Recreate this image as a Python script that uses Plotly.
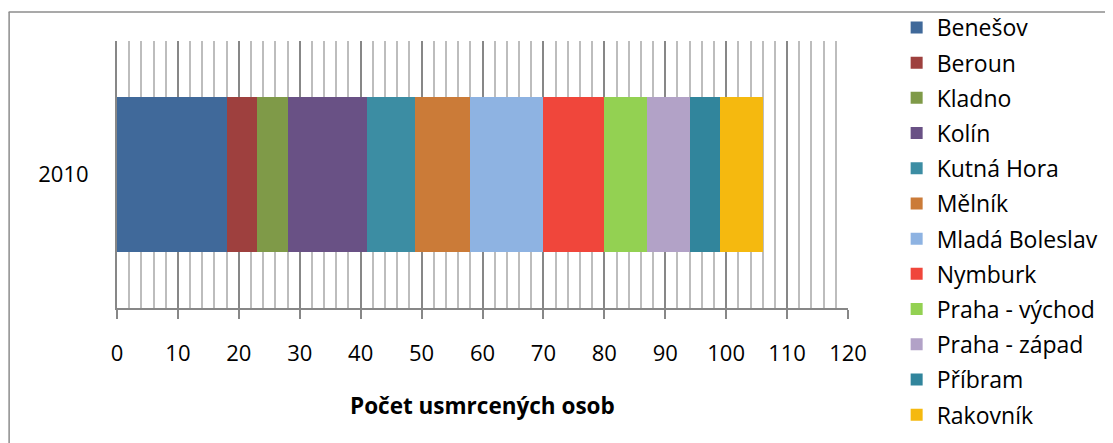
import plotly.graph_objects as go

# ---- data ----
years = ["2010"]
districts = ["Benešov", "Beroun", "Kladno", "Kolín", "Kutná Hora", "Mělník",
             "Mladá Boleslav", "Nymburk", "Praha - východ", "Praha - západ",
             "Příbram", "Rakovník"]
deaths = [18, 5, 5, 13, 8, 9, 12, 10, 7, 7, 5, 7]
colors = ["#40699A", "#9E403E", "#7F9A48", "#695185", "#3C8DA3", "#CB7B38",
          "#8EB3E2", "#F0463B", "#93D152", "#B2A2C7", "#31859C", "#F5B90F"]
x_title = "Počet usmrcených osob"

W, H = 1113, 443          # screen size
OX, OY = 8, 8             # default page body margin
L, R, T, B = 116.5, 848.3, 41, 308  # plot area in screen pixels

def px_x(px):
    return (px - L) / (R - L)

def px_y(py):
    return (B - py) / (B - T)

FONT = "Open Sans"
fig = go.Figure()
for name, val, col in zip(districts, deaths, colors):
    fig.add_trace(go.Bar(
        y=years, x=[val], name=name, orientation="h",
        marker=dict(color=col, line=dict(width=0)),
        legendgroup=name,
    ))

fig.update_layout(
    width=W - OX, height=H - OY,
    margin=dict(l=L - OX, r=W - R, t=T - OY, b=H - B, pad=0, autoexpand=False),
    paper_bgcolor="white", plot_bgcolor="white",
    barmode="stack", bargap=0.423,
    font=dict(family=FONT, size=22, color="black"),
    showlegend=True,
    legend=dict(
        x=px_x(897), y=px_y(6), xanchor="left", yanchor="top",
        traceorder="grouped", tracegroupgap=2.3,
        font=dict(family=FONT, size=23, color="black"),
        bgcolor="rgba(0,0,0,0)", maxheight=700,
    ),
    xaxis=dict(
        range=[0, 120], dtick=10, tick0=0,
        showgrid=True, gridcolor="#878787", gridwidth=2,
        minor=dict(dtick=2, showgrid=True, gridcolor="#BDBDBD", gridwidth=1.5),
        showline=True, linecolor="#878787", linewidth=2,
        ticks="outside", ticklen=9, tickwidth=2, tickcolor="#878787",
        ticklabelstandoff=16, automargin=False,
        zeroline=False, fixedrange=True,
    ),
    yaxis=dict(
        type="category",
        showline=True, linecolor="#878787", linewidth=2,
        showgrid=False, zeroline=False, ticks="",
        ticklabelstandoff=22, automargin=False,
    ),
    annotations=[dict(
        text="<b>" + x_title + "</b>", xref="paper", yref="paper",
        x=0.5, y=px_y(405), xanchor="center", yanchor="middle",
        showarrow=False, font=dict(family=FONT, size=22.5, color="black"),
    )],
    shapes=[
        dict(type="line", xref="paper", yref="paper",
             x0=px_x(8), x1=px_x(1130), y0=px_y(12), y1=px_y(12),
             line=dict(color="#8C8C8C", width=1.5)),
        dict(type="line", xref="paper", yref="paper",
             x0=px_x(8.5), x1=px_x(8.5), y0=px_y(12), y1=px_y(460),
             line=dict(color="#8C8C8C", width=1.5)),
    ],
)

fig.write_html("out.html")
